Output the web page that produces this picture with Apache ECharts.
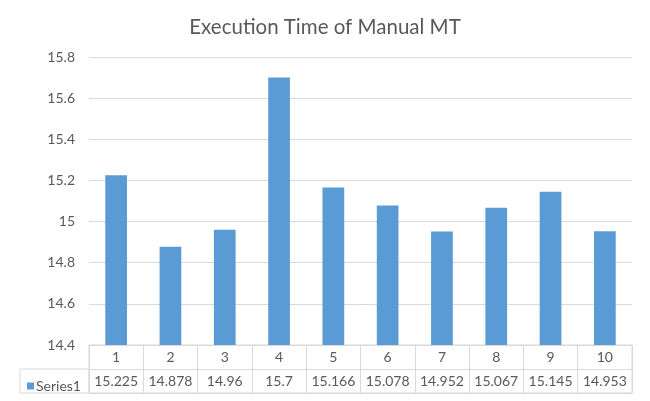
<!DOCTYPE html>
<html lang="en">
<head>
    <meta charset="UTF-8">
    <title>Execution Time of Manual MT</title>
    <style>
        html, body { margin: 0; padding: 0; background: #fff; }
        #chart { width: 650px; height: 401px; }
    </style>
    <script src="https://cdn.jsdelivr.net/npm/echarts@6/dist/echarts.min.js"></script>
</head>
<body>
<div id="chart"></div>
<script>
    // data
    var categories = ["1", "2", "3", "4", "5", "6", "7", "8", "9", "10"];
    var series1 = [15.225, 14.878, 14.96, 15.7, 15.166, 15.078, 14.952, 15.067, 15.145, 14.953];
    var yTicks = { min: 14.4, max: 15.8, step: 0.2 };

    var txt = "#595959";
    var line = "#d9d9d9";
    var font = "Lato, 'Open Sans', sans-serif";

    var myChart = echarts.init(document.getElementById("chart"));
    var option = {
        animation: false,
        textStyle: { fontFamily: font },
        title: {
            text: "Execution Time of Manual MT",
            left: "center",
            top: 12,
            textStyle: { fontFamily: font, fontSize: 20.5, fontWeight: "normal", color: txt }
        },
        legend: {
            data: ["Series1"],
            left: 22,
            top: 374,
            itemWidth: 7,
            itemHeight: 7,
            itemGap: 2,
            icon: "rect",
            textStyle: { color: txt, fontSize: 14, padding: [0, 0, 0, -3] }
        },
        grid: [
            // plot area
            { left: 89, right: 18, top: 57, bottom: 56 },
            // data table
            { left: 89, right: 18, top: 345, height: 48, show: true, borderColor: line, borderWidth: 1 },
            // legend key cell
            { left: 20, width: 69, top: 369, height: 24, show: true, borderColor: line, borderWidth: 1 }
        ],
        xAxis: [
            {
                gridIndex: 0, type: "category", data: categories,
                axisLine: { lineStyle: { color: line } },
                axisTick: { show: false }, axisLabel: { show: false }
            },
            {
                // table row 1: categories
                gridIndex: 1, type: "category", data: categories, position: "top",
                axisLine: { show: false }, axisTick: { show: false },
                splitLine: { show: true, lineStyle: { color: line } },
                axisLabel: { inside: true, interval: 0, margin: 5, color: txt, fontSize: 14 }
            },
            {
                // table row 2: values
                gridIndex: 1, type: "category", position: "bottom",
                data: series1.map(function (v) { return String(v); }),
                axisLine: { show: false }, axisTick: { show: false },
                axisLabel: { inside: true, interval: 0, margin: 5, color: txt, fontSize: 14 }
            },
            { gridIndex: 2, type: "category", show: false }
        ],
        yAxis: [
            {
                gridIndex: 0, type: "value",
                min: yTicks.min, max: yTicks.max, interval: yTicks.step,
                axisLine: { show: false }, axisTick: { show: false },
                axisLabel: { color: txt, fontSize: 14, margin: 14 },
                splitLine: { lineStyle: { color: line } }
            },
            {
                gridIndex: 1, type: "value", min: 0, max: 2, interval: 1,
                axisLine: { show: false }, axisTick: { show: false }, axisLabel: { show: false },
                splitLine: { show: true, lineStyle: { color: line } }
            },
            { gridIndex: 2, type: "value", show: false }
        ],
        series: [
            {
                name: "Series1",
                type: "bar",
                xAxisIndex: 0,
                yAxisIndex: 0,
                data: series1,
                barWidth: "40%",
                itemStyle: { color: "#5B9BD5" }
            }
        ]
    };
    myChart.setOption(option);
</script>
</body>
</html>
